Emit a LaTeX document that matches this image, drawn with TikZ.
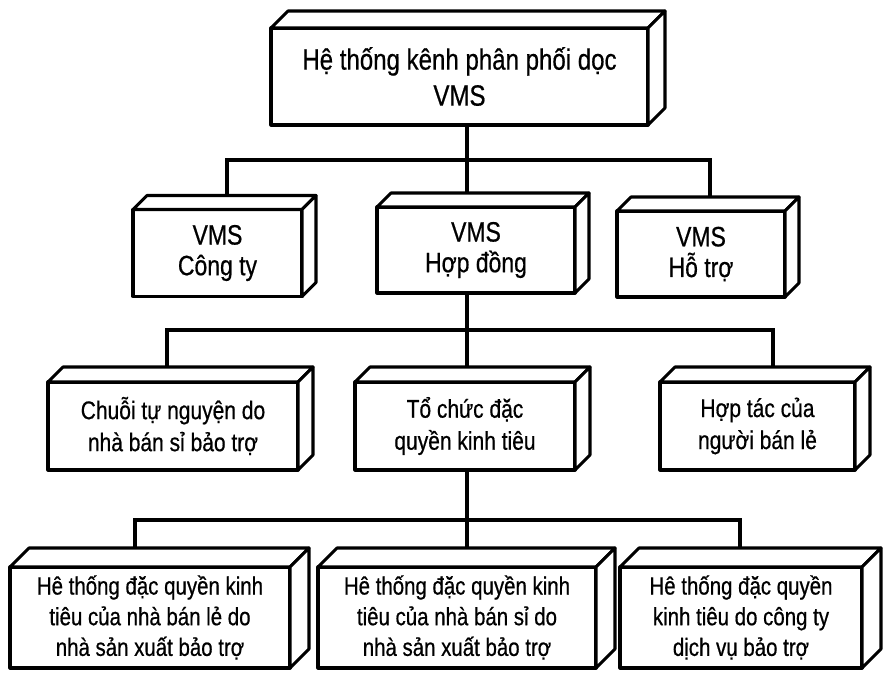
\documentclass[tikz,border=0pt]{standalone}
\usepackage{fontspec}
\setmainfont[FakeStretch=0.82,FakeBold=0.6]{Liberation Sans}
\usetikzlibrary{calc}

\begin{document}
\begin{tikzpicture}[x=0.75pt,y=-0.75pt,line width=2.3pt,
  box/.style 2 args={draw,fill=white,inner sep=0pt,outer sep=0pt,align=center,
    line join=round,minimum width=#1*0.75pt,minimum height=#2*0.75pt},
  face/.style={draw,fill=white,line join=round},
  tA/.style={font=\fontsize{22}{27}\selectfont},
  tB/.style={font=\fontsize{21}{23}\selectfont},
  tC/.style={font=\fontsize{19.2}{24}\selectfont},
  tD/.style={font=\fontsize{18.7}{23}\selectfont}]
\useasboundingbox (0,0) rectangle (884,676);

\node[box={377}{97},tA] (top) at (459.5,76.5) {Hệ thống kênh phân phối dọc\\VMS};

\node[box={169}{87},tB] (cty) at (217.5,253) {VMS\\Công ty};
\node[box={198}{86},tB] (hd) at (476,250) {VMS\\Hợp đồng};
\node[box={168}{86},tB] (ht) at (701,254) {VMS\\Hỗ trợ};

\node[box={250}{88},tC] (chuoi) at (173,426) {Chuỗi tự nguyện do\\nhà bán sỉ bảo trợ};
\node[box={220}{88},tC] (tcdq) at (465,426) {Tổ chức đặc\\quyền kinh tiêu};
\node[box={195}{88},tC] (hoptac) at (757.5,426) {Hợp tác của\\người bán lẻ};

\node[box={280}{101},tD] (hta) at (150,617.5) {Hê thống đặc quyền kinh\\tiêu của nhà bán lẻ do\\nhà sản xuất bảo trợ};
\node[box={278}{101},tD] (htb) at (457,617.5) {Hê thống đặc quyền kinh\\tiêu của nhà bán sỉ do\\nhà sản xuất bảo trợ};
\node[box={242}{101},tD] (htc) at (741,617.5) {Hê thống đặc quyền\\kinh tiêu do công ty\\dịch vụ bảo trợ};

% top and side of each box
\foreach \n/\d in {top/17,cty/14,hd/14,ht/14,chuoi/15,tcdq/15,hoptac/15,hta/19,htb/19,htc/19}{
  \draw[face] (\n.north west) -- ++(\d,-\d) -- ($(\n.north east)+(\d,-\d)$) -- (\n.north east) -- cycle;
  \draw[face] (\n.north east) -- ++(\d,-\d) -- ($(\n.south east)+(\d,-\d)$) -- (\n.south east) -- cycle;
}

% connectors
\coordinate (bus1) at (467,160);
\coordinate (bus2) at (467,330);
\coordinate (bus3) at (467,520);

\draw (top.south -| bus1) -- (bus1);
\draw (bus1) -| ($(cty.north)+(9.5,-14)$);
\draw (bus1) -| ($(ht.north)+(9,-14)$);
\draw (bus1) -- ($(bus1 |- hd.north)+(0,-14)$);

\draw (hd.south -| bus2) -- (bus2);
\draw (bus2) -| ($(chuoi.north)+(-6,-15)$);
\draw (bus2) -| ($(hoptac.north)+(15.5,-15)$);
\draw (bus2) -- ($(bus2 |- tcdq.north)+(0,-15)$);

\draw (tcdq.south -| bus3) -- (bus3);
\draw (bus3) -| ($(hta.north)+(-15,-19)$);
\draw (bus3) -| ($(htc.north)+(-1,-19)$);
\draw (bus3) -- ($(bus3 |- htb.north)+(0,-19)$);
\end{tikzpicture}
\end{document}
